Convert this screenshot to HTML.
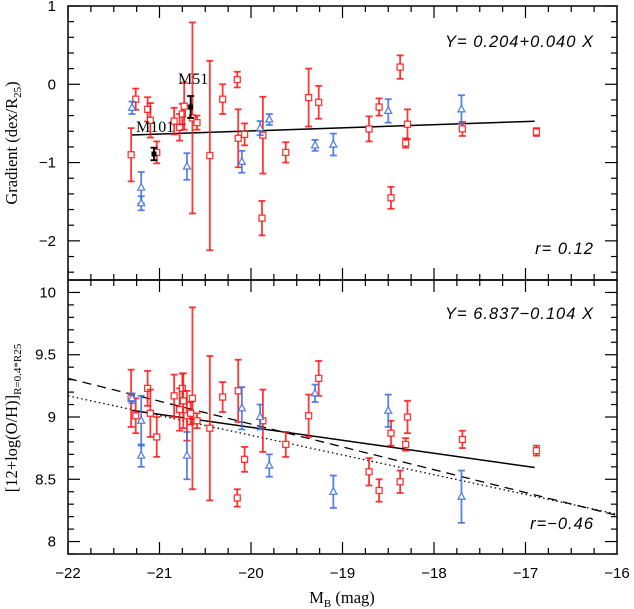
<!DOCTYPE html>
<html><head><meta charset="utf-8"><style>
html,body{margin:0;padding:0;background:#fff;}
svg{display:block;}
</style></head><body>
<svg id="chart" width="634" height="609" xmlns="http://www.w3.org/2000/svg"></svg>
<script>
// top panel data (gradient, dex/R25)
const topRedX=[-21.31,-21.26,-21.13,-21.10,-21.03,-20.84,-20.78,-20.75,-20.73,-20.64,-20.59,-20.45,-20.31,-20.15,-20.14,-20.07,-19.87,-19.88,-19.62,-19.37,-19.26,-18.71,-18.60,-18.37,-18.47,-18.29,-18.31,-17.69,-16.88];
const topRedY=[-0.90,-0.19,-0.32,-0.46,-0.87,-0.47,-0.55,-0.38,-0.28,-0.43,-0.49,-0.91,-0.19,0.06,-0.69,-0.64,-0.65,-1.71,-0.87,-0.17,-0.23,-0.57,-0.29,0.22,-1.45,-0.51,-0.75,-0.57,-0.61];
const topRedE=[0.34,0.135,0.155,0.22,0.14,0.17,0.17,0.13,0.30,1.22,0.09,1.21,0.19,0.10,0.37,0.14,0.49,0.22,0.13,0.37,0.21,0.16,0.11,0.15,0.14,0.19,0.06,0.09,0.05];
const topBlueX=[-21.30,-21.20,-21.20,-20.70,-20.10,-19.90,-19.80,-19.30,-19.10,-18.50,-17.70];
const topBlueY=[-0.30,-1.32,-1.52,-1.05,-0.99,-0.56,-0.45,-0.78,-0.77,-0.34,-0.32];
const topBlueE=[0.08,0.20,0.09,0.17,0.14,0.09,0.07,0.07,0.14,0.15,0.18];
const topBlackX=[-21.06,-20.66];
const topBlackY=[-0.89,-0.29];
const topBlackE=[0.08,0.14];
const topBlackNames=["M101","M51"];
const topFit=[0.204,0.040];
// bottom panel data (12+log(O/H))
const botRedX=[-21.31,-21.26,-21.13,-21.10,-21.03,-20.84,-20.78,-20.75,-20.74,-20.70,-20.64,-20.66,-20.59,-20.45,-20.31,-20.14,-20.15,-20.07,-19.87,-19.62,-19.37,-19.26,-18.71,-18.60,-18.47,-18.37,-18.29,-18.31,-17.69,-16.88];
const botRedY=[9.15,9.01,9.23,9.03,8.84,9.17,9.06,9.23,9.13,9.01,9.15,9.03,8.97,8.91,9.16,9.21,8.35,8.66,8.97,8.78,9.01,9.31,8.56,8.41,8.87,8.48,9.00,8.78,8.82,8.73];
const botRedE=[0.23,0.14,0.14,0.19,0.16,0.17,0.17,0.12,0.22,0.20,0.73,0.09,0.06,0.58,0.12,0.25,0.07,0.10,0.25,0.10,0.17,0.14,0.11,0.09,0.10,0.09,0.13,0.05,0.07,0.04];
const botBlueX=[-21.30,-21.20,-21.20,-20.70,-20.10,-19.90,-19.80,-19.30,-19.10,-18.50,-17.70];
const botBlueY=[9.15,8.97,8.69,8.69,9.07,9.00,8.61,9.19,8.40,9.05,8.36];
const botBlueE=[0.04,0.20,0.09,0.19,0.17,0.10,0.09,0.07,0.13,0.13,0.21];
const botFit=[6.837,-0.104];
const dashedFit=[-22,9.31,-16,8.21];
const dottedFit=[-22,9.17,-16,8.22];
const xTicks=[-22,-21,-20,-19,-18,-17,-16];
const topYTicks=[1,0,-1,-2];
const botYTicks=[10,9.5,9,8.5,8];

const NS="http://www.w3.org/2000/svg";
const svg=document.getElementById('chart');
const L=68,R=617;
const xs=v=>L+(v+22)*(R-L)/6;
const T0=6,T1=280,B0=280,B1=554;
const ysT=v=>T0+(1-v)*(T1-T0)/3.5;
const ysB=v=>B0+(10.1-v)*(B1-B0)/2.2;
function mk(tag,attrs,parent){const e=document.createElementNS(NS,tag);for(const k in attrs)e.setAttribute(k,attrs[k]);(parent||svg).appendChild(e);return e;}

const f1=mk('rect',{x:L,y:T0,width:R-L,height:T1-T0,fill:'none',stroke:'#000','stroke-width':1.5});


const f2=mk('rect',{x:L,y:B0,width:R-L,height:B1-B0,fill:'none',stroke:'#000','stroke-width':1.5});



for(let v=-22;v<=-16.001;v+=0.25){
  const maj=Math.abs(v-Math.round(v))<1e-6;const len=maj?12:6;const x=xs(v);
  [[T0,1],[T1,-1],[B0,1],[B1,-1]].forEach(([y,d])=>{const t=mk('line',{x1:x,x2:x,y1:y,y2:y+d*len,stroke:'#000','stroke-width':1.2});
  
  });
}
xTicks.forEach(v=>{const t=mk('text',{x:xs(v),y:578,'text-anchor':'middle','font-family':'Liberation Sans, sans-serif','font-size':15});t.textContent=(v<0?'\u2212':'')+Math.abs(v);

});
for(let i=0;i<=17;i++){const v=1-i*0.2;const maj=Math.abs(v-Math.round(v))<1e-6;const len=maj?12:6;const y=ysT(v);
  [[L,1],[R,-1]].forEach(([x,d])=>{const t=mk('line',{x1:x,x2:x+d*len,y1:y,y2:y,stroke:'#000','stroke-width':1.2});
  
  });}
topYTicks.forEach(v=>{const t=mk('text',{x:56,y:ysT(v)+5,'text-anchor':'end','font-family':'Liberation Sans, sans-serif','font-size':15});t.textContent=(v<0?'\u2212':'')+Math.abs(v);

});
for(let i=0;i<=21;i++){const v=10-i*0.1;const maj=Math.abs(v*2-Math.round(v*2))<1e-6;const len=maj?12:6;const y=ysB(v);
  [[L,1],[R,-1]].forEach(([x,d])=>{const t=mk('line',{x1:x,x2:x+d*len,y1:y,y2:y,stroke:'#000','stroke-width':1.2});
  
  });}
botYTicks.forEach(v=>{const t=mk('text',{x:56,y:ysB(v)+5,'text-anchor':'end','font-family':'Liberation Sans, sans-serif','font-size':15});t.textContent=String(v);

});

function point(x,y,e,ys,color,shape,name){
  const g=mk('g',{});
  
  
  const px=xs(x),py=ys(y),t=ys(y+e),b=ys(y-e);
  mk('line',{x1:px,x2:px,y1:t,y2:b,stroke:color,'stroke-width':1.8},g);
  mk('line',{x1:px-3.5,x2:px+3.5,y1:t,y2:t,stroke:color,'stroke-width':1.8},g);
  mk('line',{x1:px-3.5,x2:px+3.5,y1:b,y2:b,stroke:color,'stroke-width':1.8},g);
  if(shape==='sq') mk('rect',{x:px-3,y:py-3,width:6,height:6,fill:'#fff',stroke:color,'stroke-width':1.3},g);
  else if(shape==='tri') mk('polygon',{points:`${px},${py-4} ${px-3.5},${py+2.5} ${px+3.5},${py+2.5}`,fill:'#fff',stroke:color,'stroke-width':1.3},g);
  else mk('rect',{x:px-2.5,y:py-2.5,width:5,height:5,fill:color},g);
}
const RED='rgba(255,20,20,0.85)',BLUE='rgba(60,110,225,0.85)';
const l1=mk('line',{x1:xs(-21.3),y1:ysT(topFit[0]+topFit[1]*-21.3),x2:xs(-16.9),y2:ysT(topFit[0]+topFit[1]*-16.9),stroke:'#000','stroke-width':1.5});


topRedX.forEach((x,i)=>point(x,topRedY[i],topRedE[i],ysT,RED,'sq','top-red-point'));
topBlueX.forEach((x,i)=>point(x,topBlueY[i],topBlueE[i],ysT,BLUE,'tri','top-blue-point'));
topBlackX.forEach((x,i)=>point(x,topBlackY[i],topBlackE[i],ysT,'#000','fill','top-black-point'));
const m101=mk('text',{x:136,y:132,'font-family':'Liberation Serif, serif','font-size':16});m101.textContent=topBlackNames[0];


const m51=mk('text',{x:178,y:84,'font-family':'Liberation Serif, serif','font-size':16});m51.textContent=topBlackNames[1];



const l2=mk('line',{x1:xs(-21.3),y1:ysB(botFit[0]+botFit[1]*-21.3),x2:xs(-16.9),y2:ysB(botFit[0]+botFit[1]*-16.9),stroke:'#000','stroke-width':1.5});


const l3=mk('line',{x1:xs(dashedFit[0]),y1:ysB(dashedFit[1]),x2:xs(dashedFit[2]),y2:ysB(dashedFit[3]),stroke:'#000','stroke-width':1.3,'stroke-dasharray':'9,6'});


const l4=mk('line',{x1:xs(dottedFit[0]),y1:ysB(dottedFit[1]),x2:xs(dottedFit[2]),y2:ysB(dottedFit[3]),stroke:'#000','stroke-width':1.3,'stroke-dasharray':'1.5,3'});


botRedX.forEach((x,i)=>point(x,botRedY[i],botRedE[i],ysB,RED,'sq','bottom-red-point'));
botBlueX.forEach((x,i)=>point(x,botBlueY[i],botBlueE[i],ysB,BLUE,'tri','bottom-blue-point'));
</script>
<svg style="position:absolute;left:0;top:0" width="634" height="609" xmlns="http://www.w3.org/2000/svg">
<g font-family="Liberation Sans, sans-serif" font-style="italic" font-size="16.5" letter-spacing="1">
<text x="594" y="47" text-anchor="end">Y=  0.204+0.040  X</text>
<text x="594" y="254" text-anchor="end">r=  0.12</text>
<text x="594" y="319" text-anchor="end">Y=  6.837−0.104  X</text>
<text x="594" y="529" text-anchor="end">r=−0.46</text>
</g>
<g font-family="Liberation Serif, serif" font-size="16.5">
<text transform="translate(17,143) rotate(-90)" text-anchor="middle">Gradient (dex/R<tspan font-size="11" dy="4">25</tspan><tspan dy="-4">)</tspan></text>
<text transform="translate(17,418) rotate(-90)" text-anchor="middle">[12+log(O/H)]<tspan font-size="11" dy="4">R=0.4*R25</tspan></text>
<text x="342" y="603" text-anchor="middle">M<tspan font-size="11" dy="4">B</tspan><tspan dy="-4"> (mag)</tspan></text>
</g>
</svg>
</body></html>
